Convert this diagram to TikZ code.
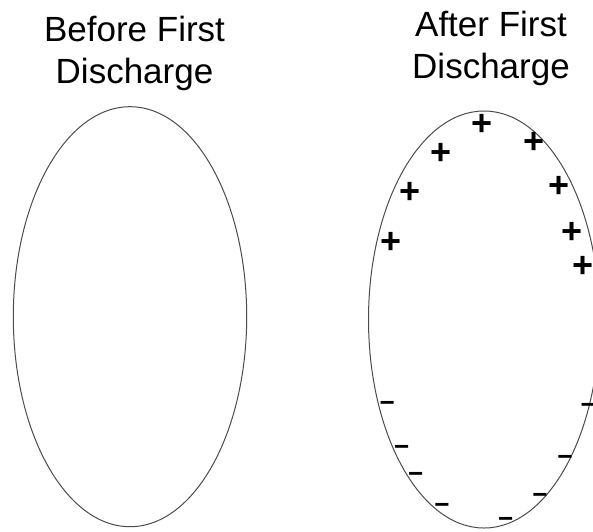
\documentclass[tikz,border=0pt]{standalone}
\usepackage{fontspec}
\setmainfont{Liberation Sans}
\begin{document}
\begin{tikzpicture}[x=1pt,y=-1pt,
  titletext/.style={font=\fontsize{35}{42}\selectfont, align=center, inner sep=0pt, anchor=base},
  shell/.style={draw=black!70, line width=1pt},
  poscharge/.style={font=\fontsize{36}{36}\selectfont\bfseries, inner sep=0pt},
  negcharge/.style={font=\fontsize{26}{26}\selectfont\bfseries, inner sep=0pt}]
\useasboundingbox (0,0) rectangle (593,531);
\clip (0,0) rectangle (593,531);
\fill[white] (0,0) rectangle (593,531);
\node[titletext] (tl) at (134.5,83.3) {Before First\\Discharge};
\node[titletext] (tr) at (491,78) {After First\\Discharge};
\draw[shell] (130,316.7) ellipse [x radius=116.7, y radius=210];
\draw[shell] (484,319.5) ellipse [x radius=115.5, y radius=208.5];
% positive charges
\node[poscharge] (p1) at (481.7,125) {+};
\node[poscharge] (p2) at (534,142.7) {+};
\node[poscharge] (p3) at (441,154) {+};
\node[poscharge] (p4) at (410,193) {+};
\node[poscharge] (p5) at (559.5,186.5) {+};
\node[poscharge] (p6) at (390.7,243.3) {+};
\node[poscharge] (p7) at (571.5,232.7) {+};
\node[poscharge] (p8) at (583.3,267) {+};
% negative charges
\node[negcharge] (n1) at (387.3,406.7) {−};
\node[negcharge] (n2) at (588.3,408.8) {−};
\node[negcharge] (n3) at (401.7,450.5) {−};
\node[negcharge] (n4) at (565,460) {−};
\node[negcharge] (n5) at (415.7,477.7) {−};
\node[negcharge] (n6) at (540,498.3) {−};
\node[negcharge] (n7) at (442,508.3) {−};
\node[negcharge] (n8) at (505.8,522.3) {−};
\end{tikzpicture}
\end{document}
